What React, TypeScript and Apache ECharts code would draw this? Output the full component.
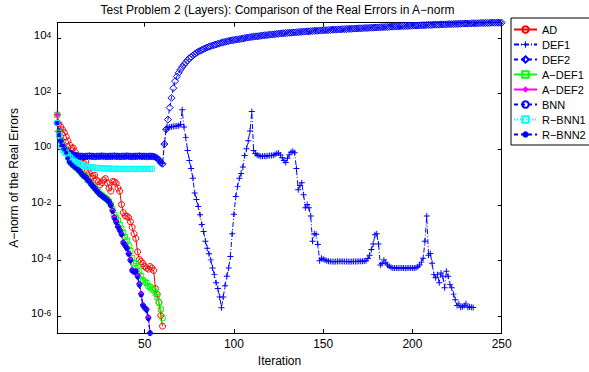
import React, { useEffect, useRef } from 'react';
import * as echarts from 'echarts';

const TITLE = 'Test Problem 2 (Layers): Comparison of the Real Errors in A−norm';
const X_LABEL = 'Iteration';
const Y_LABEL = 'A−norm of the Real Errors';
const SERIES_NAMES = ['AD', 'DEF1', 'DEF2', 'A−DEF1', 'A−DEF2', 'BNN', 'R−BNN1', 'R−BNN2'];

// Axis extents (x: iteration, y: log10 of the error)
const X_MIN = 1;
const X_MAX = 250;
const Y_MIN_LOG10 = -6.6;
const Y_MAX_LOG10 = 4.55;

// All values below are log10 of the A-norm error; index 0 = iteration 1
const adLog10 = [
  1.24, 0.92, 0.8, 0.7, 0.6, 0.45, 0.3, 0.15, 0.05, 0.05,
  -0.09, -0.3, -0.45, -0.4, -0.33, -0.5, -0.45, -0.75, -0.85, -0.98,
  -0.95, -0.93, -1.1, -1.16, -1.27, -1.2, -1.1, -1.05, -1.21, -1.39,
  -1.5, -1.16, -1.16, -1.21, -1.39, -1.5, -1.98, -2.27, -2.39, -2.4,
  -2.45, -2.6, -2.8, -3.03, -3.2, -3.68, -3.95, -4.03, -4.1, -4.21,
  -4.26, -4.3, -4.21, -4.26, -4.35, -5.0, -5.2, -5.5, -5.97, -6.35,
];

// DEF1 and DEF2 coincide for iterations 1..60
const defSharedLog10 = [
  0.95, 0.65, 0.35, 0.12, 0.0, -0.08, -0.12, -0.12, -0.16, -0.2,
  -0.22, -0.23, -0.24, -0.25, -0.25, -0.26, -0.25, -0.25, -0.24, -0.25,
  -0.25, -0.26, -0.25, -0.25, -0.25, -0.24, -0.25, -0.25, -0.26, -0.25,
  -0.25, -0.25, -0.24, -0.25, -0.25, -0.26, -0.25, -0.25, -0.25, -0.24,
  -0.25, -0.25, -0.26, -0.25, -0.25, -0.25, -0.24, -0.25, -0.25, -0.25,
  -0.26, -0.25, -0.25, -0.25, -0.26, -0.28, -0.32, -0.38, -0.48, -0.52,
];

// DEF1, iterations 61..234
const def1TailLog10 = [
  0.19, 0.72, 0.78, 0.8, 0.81, 0.82, 0.83, 0.84, 0.85, 0.89,
  1.42, 0.8, 0.43, -0.04, -0.4, -0.69, -1.04, -1.57, -1.8, -2.05,
  -2.35, -2.7, -2.95, -3.3, -3.55, -3.75, -3.97, -4.26, -4.5, -4.79,
  -5.0, -5.3, -5.69, -5.3, -4.9, -4.56, -4.26, -3.85, -3.03, -2.33,
  -1.69, -1.33, -1.04, -0.87, -0.63, -0.22, 0.02, 0.31, 0.66, 1.36,
  -0.04, -0.15, -0.2, -0.23, -0.25, -0.25, -0.24, -0.25, -0.23, -0.22,
  -0.22, -0.21, -0.18, -0.15, -0.13, -0.2, -0.3, -0.4, -0.47, -0.32,
  -0.18, -0.1, -0.07, -0.12, -0.69, -1.45, -1.3, -1.2, -1.63, -2.1,
  -1.98, -2.1, -2.39, -3.3, -3.03, -3.05, -3.42, -4.0, -3.91, -3.95,
  -3.97, -4.0, -4.02, -4.03, -4.03, -4.04, -4.03, -4.03, -4.03, -4.02,
  -4.03, -4.03, -4.03, -4.03, -4.04, -4.03, -4.03, -4.03, -4.03, -4.02,
  -4.02, -4.02, -4.01, -4.0, -3.92, -3.8, -3.6, -3.4, -3.07, -3.03,
  -3.4, -4.15, -4.1, -3.97, -4.05, -4.15, -4.2, -4.24, -4.26, -4.26,
  -4.26, -4.27, -4.26, -4.26, -4.26, -4.27, -4.26, -4.26, -4.26, -4.26,
  -4.26, -4.25, -4.22, -4.15, -4.05, -3.91, -3.3, -2.39, -3.8, -3.74,
  -4.09, -4.5, -4.61, -4.5, -4.79, -4.44, -4.56, -4.97, -4.38, -4.56,
  -4.85, -4.97, -5.2, -5.4, -5.61, -5.55, -5.67, -5.65, -5.61, -5.55,
  -5.67, -5.66, -5.67, -5.68,
];

// DEF2, iterations 61..250
const def2TailLog10 = [
  0.19, 0.72, 1.07, 1.5, 1.85, 2.2, 2.45, 2.62, 2.75, 2.86,
  2.96, 3.04, 3.12, 3.2, 3.27, 3.32, 3.37, 3.42, 3.47, 3.51,
  3.54, 3.57, 3.6, 3.63, 3.66, 3.69, 3.71, 3.73, 3.75, 3.77,
  3.79, 3.81, 3.83, 3.85, 3.86, 3.88, 3.89, 3.91, 3.92, 3.93,
  3.94, 3.95, 3.96, 3.97, 3.98,
  4.0, 4.01, 4.02, 4.03, 4.04, 4.05, 4.06, 4.06, 4.07, 4.08,
  4.09, 4.1, 4.1, 4.11, 4.12, 4.13, 4.13, 4.14, 4.15, 4.15,
  4.16, 4.17, 4.17, 4.18, 4.18, 4.19, 4.19, 4.2, 4.2, 4.21,
  4.21, 4.22, 4.22, 4.23, 4.23, 4.24, 4.24, 4.25, 4.25, 4.26,
  4.26, 4.26, 4.27, 4.27, 4.28, 4.28, 4.28, 4.29, 4.29, 4.3,
  4.3, 4.3, 4.31, 4.31, 4.31, 4.32, 4.32, 4.32, 4.33, 4.33,
  4.33, 4.34, 4.34, 4.34, 4.35, 4.35, 4.35, 4.36, 4.36, 4.36,
  4.37, 4.37, 4.37, 4.38, 4.38, 4.38, 4.39, 4.39, 4.39, 4.4,
  4.4, 4.4, 4.41, 4.41, 4.41, 4.42, 4.42, 4.42, 4.43, 4.43,
  4.43, 4.43, 4.44, 4.44, 4.44, 4.45, 4.45, 4.45, 4.45, 4.46,
  4.46, 4.46, 4.47, 4.47, 4.47, 4.47, 4.48, 4.48, 4.48, 4.48,
  4.49, 4.49, 4.49, 4.49, 4.5, 4.5, 4.5, 4.5, 4.51, 4.51,
  4.51, 4.51, 4.52, 4.52, 4.52, 4.52, 4.52, 4.53, 4.53, 4.53,
  4.53, 4.53, 4.54, 4.54, 4.54, 4.54, 4.54, 4.54, 4.55, 4.55,
  4.55, 4.55, 4.55, 4.55, 4.55,
];

const aDef1Log10 = [
  1.24, 0.6, 0.32, 0.15, 0.03, -0.1, -0.28, -0.43, -0.5, -0.57,
  -0.62, -0.68, -0.74, -0.8, -0.88, -0.95, -1.0, -1.08, -1.15, -1.23,
  -1.3, -1.38, -1.45, -1.52, -1.6, -1.65, -1.7, -1.75, -1.8, -1.87,
  -1.98, -2.15, -2.35, -2.45, -2.55, -2.7, -2.85, -3.0, -3.15, -3.27,
  -3.45, -3.65, -3.9, -4.1, -4.09, -4.2, -4.35, -4.55, -4.7, -4.75,
  -4.8, -4.9, -4.95, -5.0, -5.05, -5.15, -5.3, -5.5, -5.75, -6.05,
];

const aDef2Log10 = [
  1.24, 0.58, 0.31, 0.16, 0.03, -0.09, -0.29, -0.44, -0.51, -0.57,
  -0.62, -0.67, -0.74, -0.81, -0.89, -0.95, -0.99, -1.08, -1.14, -1.24,
  -1.32, -1.39, -1.47, -1.54, -1.61, -1.65, -1.71, -1.75, -1.81, -1.87,
  -1.98, -2.18, -2.42, -2.58, -2.76, -2.88, -3.02, -3.32, -3.43, -3.53,
  -3.72, -3.95, -4.32, -4.38, -4.36, -4.52, -4.82, -5.18, -5.58, -5.68,
  -5.73, -6.02, -6.58,
];

const bnnLog10 = [
  0.95, 0.55, 0.3, 0.15, 0.02, -0.1, -0.3, -0.45, -0.52, -0.58,
  -0.63, -0.68, -0.75, -0.82, -0.9, -0.96, -1.0, -1.1, -1.15, -1.25,
  -1.33, -1.4, -1.48, -1.55, -1.62, -1.66, -1.72, -1.76, -1.82, -1.88,
  -2.0, -2.2, -2.45, -2.6, -2.78, -2.9, -3.05, -3.35, -3.45, -3.55,
  -3.75, -3.98, -4.35, -4.4, -4.38, -4.55, -4.85, -5.2, -5.6, -5.7,
  -5.75, -6.05, -6.6,
];

const rBnn1Log10 = [
  0.95, 0.5, 0.15, -0.02, -0.1, -0.15, -0.2, -0.27, -0.33, -0.4,
  -0.44, -0.48, -0.5, -0.53, -0.56, -0.58, -0.6, -0.62, -0.63, -0.64,
  -0.65, -0.66, -0.66, -0.67, -0.67, -0.68, -0.68, -0.68, -0.69, -0.69,
  -0.69, -0.7, -0.7, -0.7, -0.7, -0.7, -0.71, -0.7, -0.7, -0.7,
  -0.71, -0.7, -0.7, -0.7, -0.71, -0.7, -0.7, -0.7, -0.7, -0.71,
  -0.7, -0.7, -0.7, -0.7,
];

const rBnn2Log10 = [
  0.95, 0.53, 0.28, 0.13, 0.0, -0.12, -0.32, -0.46, -0.53, -0.6,
  -0.64, -0.7, -0.77, -0.84, -0.92, -0.97, -1.02, -1.12, -1.17, -1.27,
  -1.35, -1.42, -1.5, -1.57, -1.63, -1.68, -1.73, -1.78, -1.84, -1.9,
  -2.03, -2.25, -2.5, -2.65, -2.8, -2.93, -3.08, -3.38, -3.48, -3.58,
  -3.78, -4.02, -4.38, -4.42, -4.4, -4.6, -4.9, -5.25, -5.62, -5.68,
  -5.8, -6.1, -6.6,
];

const FONT = '"Liberation Sans", Arial, Helvetica, sans-serif';
const BLUE = '#0000ff';
const PLUS = 'path://M0,4.2H10V5.8H0Z M4.2,0H5.8V10H4.2Z';

const toPoints = (arr: number[], startIter = 1) => arr.map((v, i) => [startIter + i, v]);

type Def = { color: string; symbol: string; size: number; hollow: boolean; dash: any; data: number[][] };

const defs: Def[] = [
  { color: '#ff0000', symbol: 'circle', size: 6, hollow: true, dash: 'solid', data: toPoints(adLog10) },
  { color: BLUE, symbol: PLUS, size: 6, hollow: false, dash: [5, 2, 1, 2], data: toPoints(defSharedLog10.concat(def1TailLog10)) },
  { color: BLUE, symbol: 'diamond', size: 7, hollow: true, dash: [4, 3], data: toPoints(defSharedLog10.concat(def2TailLog10)) },
  { color: '#00ff00', symbol: 'rect', size: 5, hollow: true, dash: 'solid', data: toPoints(aDef1Log10) },
  { color: '#ff00ff', symbol: 'diamond', size: 6, hollow: false, dash: 'solid', data: toPoints(aDef2Log10) },
  { color: BLUE, symbol: 'circle', size: 5, hollow: true, dash: [4, 3], data: toPoints(bnnLog10) },
  { color: '#00ffff', symbol: 'rect', size: 5, hollow: true, dash: [1, 2], data: toPoints(rBnn1Log10) },
  { color: BLUE, symbol: 'circle', size: 4, hollow: false, dash: [4, 3], data: toPoints(rBnn2Log10) },
];

const isWhole = (v: number) => Math.abs(v - Math.round(v)) < 1e-6;

export default function App() {
  const ref = useRef<HTMLDivElement>(null);
  useEffect(() => {
    if (!ref.current) return;
    const chart = echarts.init(ref.current, undefined, { renderer: 'svg' });
    const axisLine = { show: true, onZero: false, lineStyle: { color: '#000', width: 1 } };
    const tick = { show: true, inside: true, length: 4, lineStyle: { color: '#000', width: 1 } };
    const grid = { left: 53.3, top: 22.7, width: 448.4, height: 317 };
    const xCommon = { type: 'value', min: X_MIN, max: X_MAX, splitNumber: 5, splitLine: { show: false }, axisLine, axisTick: tick };
    const yCommon = { type: 'value', min: Y_MIN_LOG10, max: Y_MAX_LOG10, splitNumber: 5, splitLine: { show: false }, axisLine, axisTick: tick };
    chart.setOption({
      animation: false,
      backgroundColor: '#fff',
      grid,
      graphic: [
        {
          type: 'text',
          x: 277.5,
          y: 9.5,
          style: { text: TITLE, align: 'center', verticalAlign: 'middle', fontSize: 12, fontFamily: FONT, fill: '#000' },
        },
      ],
      xAxis: [
        {
          ...xCommon,
          position: 'bottom',
          name: X_LABEL,
          nameLocation: 'middle',
          nameGap: 19,
          nameTextStyle: { fontSize: 12, fontFamily: FONT, color: '#000' },
          axisLabel: {
            margin: 5,
            fontSize: 12,
            fontFamily: FONT,
            color: '#000',
            formatter: (v: number) => (v % 50 === 0 ? String(v) : ''),
          },
        },
        { ...xCommon, position: 'top', axisLabel: { show: false } },
      ],
      yAxis: [
        {
          ...yCommon,
          position: 'left',
          name: Y_LABEL,
          nameLocation: 'middle',
          nameGap: 24,
          nameTextStyle: { fontSize: 12, fontFamily: FONT, color: '#000' },
          axisLabel: {
            margin: 6,
            formatter: (v: number) => (isWhole(v) ? `{b|10}{s|${Math.round(v)}}` : ''),
            rich: {
              b: { fontSize: 11.5, fontFamily: FONT, color: '#000', lineHeight: 16, padding: [2, 0, 8, 0] },
              s: { fontSize: 8.5, fontFamily: FONT, color: '#000', lineHeight: 10, verticalAlign: 'top' },
            },
          },
        },
        { ...yCommon, position: 'right', axisLabel: { show: false } },
      ],
      legend: {
        orient: 'vertical',
        left: 511,
        top: 18,
        data: SERIES_NAMES,
        itemWidth: 23,
        itemHeight: 8,
        itemGap: 2,
        padding: [5, 10, 4, 2],
        borderColor: '#000',
        borderWidth: 1,
        backgroundColor: '#fff',
        textStyle: { fontSize: 11, fontFamily: FONT, color: '#000', lineHeight: 13 },
      },
      series: defs.map((d, i) => ({
        type: 'line',
        name: SERIES_NAMES[i],
        data: d.data,
        xAxisIndex: 0,
        yAxisIndex: 0,
        symbol: d.symbol,
        symbolSize: d.size,
        showAllSymbol: true,
        clip: true,
        silent: true,
        lineStyle: { color: d.color, width: 1, type: d.dash },
        itemStyle: d.hollow
          ? { color: 'rgba(255,255,255,0)', borderColor: d.color, borderWidth: 1 }
          : { color: d.color, borderWidth: 0 },
        emphasis: { disabled: true },
      })),
    });
    return () => chart.dispose();
  }, []);
  return <div ref={ref} style={{ position: 'absolute', left: 0, top: 0, width: 589, height: 372 }} />;
}
